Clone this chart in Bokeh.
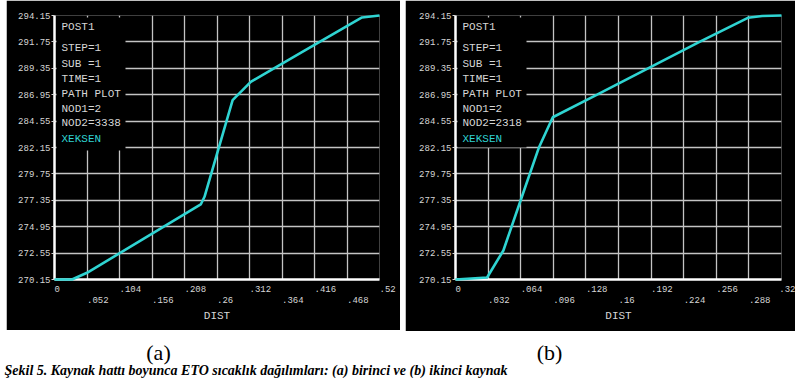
from bokeh.plotting import figure
from bokeh.layouts import row, column
from bokeh.models import Range1d, FixedTicker, LinearAxis, Grid, BoxAnnotation, Label, Spacer
from bokeh.embed import file_html
from bokeh.resources import INLINE

# ---------------- data ----------------
a_dist = [0.0, 0.028, 0.052, 0.234, 0.240, 0.285, 0.314, 0.400, 0.492, 0.520]
a_temp = [270.15, 270.15, 270.76, 276.97, 277.67, 286.45, 288.12, 290.95, 293.97, 294.15]

b_dist = [0.0, 0.031, 0.047, 0.065, 0.082, 0.0955, 0.139, 0.189, 0.2395, 0.287, 0.301, 0.320]
b_temp = [270.15, 270.33, 272.79, 277.63, 282.18, 284.90, 286.95, 289.35, 291.75, 293.94, 294.10, 294.15]

a_xticks = [0.0, 0.052, 0.104, 0.156, 0.208, 0.26, 0.312, 0.364, 0.416, 0.468, 0.52]
a_xlabels = ["0", ".052", ".104", ".156", ".208", ".26", ".312", ".364", ".416", ".468", ".52"]
b_xticks = [0.0, 0.032, 0.064, 0.096, 0.128, 0.16, 0.192, 0.224, 0.256, 0.288, 0.32]
b_xlabels = ["0", ".032", ".064", ".096", ".128", ".16", ".192", ".224", ".256", ".288", ".32"]
yticks = [270.15, 272.55, 274.95, 277.35, 279.75, 282.15, 284.55, 286.95, 289.35, 291.75, 294.15]
ylabels = ["270.15", "272.55", "274.95", "277.35", "279.75", "282.15", "284.55", "286.95",
           "289.35", "291.75", "294.15"]

a_info = ["POST1", "STEP=1", "SUB =1", "TIME=1", "PATH PLOT", "NOD1=2", "NOD2=3338", "XEKSEN"]
b_info = ["POST1", "STEP=1", "SUB =1", "TIME=1", "PATH PLOT", "NOD1=2", "NOD2=2318", "XEKSEN"]
x_title = "DIST"
panel_tags = ["(a)", "(b)"]
caption = "Şekil 5. Kaynak hattı boyunca ETO sıcaklık dağılımları: (a) birinci ve (b) ikinci kaynak"

# ---------------- style ----------------
CYAN = "#2fd4d2"
GRID = "#c4c4c4"
TXT = "#d6d6d6"
MONO = "Liberation Mono"
info_rows_px = [11, 32, 48, 63, 78, 93, 107, 123]   # offsets below frame top


def pad(s):
    return "\u00a0" * len(s) + s


def panel(dist, temp, xticks, xlabels, info, fw, fh, left, right, top, bottom, box_w, box_h):
    xr = Range1d(xticks[0], xticks[-1])
    yr = Range1d(yticks[0], yticks[-1])
    p = figure(frame_width=fw, frame_height=fh, x_range=xr, y_range=yr,
               x_axis_location=None, y_axis_location=None,
               min_border_left=left, min_border_right=right,
               min_border_top=top, min_border_bottom=bottom,
               output_backend="svg", toolbar_location=None)
    p.background_fill_color = "black"
    p.border_fill_color = "black"
    p.outline_line_color = None
    p.center = []   # drop default grids

    sx = (xticks[-1] - xticks[0]) / fw
    sy = (yticks[-1] - yticks[0]) / fh

    for dim, tk in ((0, xticks), (1, yticks)):
        p.add_layout(Grid(dimension=dim, ticker=FixedTicker(ticks=tk),
                          grid_line_color=GRID, grid_line_width=1.3))

    # black box behind the info text
    p.add_layout(BoxAnnotation(left=xticks[0] + 2 * sx, right=xticks[0] + box_w * sx,
                               top=yticks[-1] - 2 * sy, bottom=yticks[-1] - box_h * sy,
                               fill_color="black", fill_alpha=1.0, line_color=None,
                               level="guide"))

    yax = LinearAxis(ticker=FixedTicker(ticks=yticks),
                     major_label_overrides={t: l for t, l in zip(yticks, ylabels)},
                     major_label_text_font=MONO, major_label_text_font_size="9px",
                     major_label_text_color=TXT, major_label_standoff=1,
                     major_tick_out=3, major_tick_in=0, major_tick_line_color=TXT,
                     minor_tick_out=0, minor_tick_in=0,
                     axis_line_color="white", axis_line_width=2.5)
    p.add_layout(yax, "left")

    even = xticks[0::2]
    odd = xticks[1::2]
    ov = {t: pad(l) for t, l in zip(xticks, xlabels)}
    ax1 = LinearAxis(ticker=FixedTicker(ticks=even),
                     major_label_overrides={t: ov[t] for t in even},
                     major_label_text_font=MONO, major_label_text_font_size="9px",
                     major_label_text_color=TXT, major_label_standoff=5,
                     major_tick_out=0, major_tick_in=0, minor_tick_out=0, minor_tick_in=0,
                     axis_line_color="white", axis_line_width=2.5)
    ax2 = LinearAxis(ticker=FixedTicker(ticks=odd),
                     major_label_overrides={t: ov[t] for t in odd},
                     major_label_text_font=MONO, major_label_text_font_size="9px",
                     major_label_text_color=TXT, major_label_standoff=-2,
                     major_tick_out=0, major_tick_in=0, minor_tick_out=0, minor_tick_in=0,
                     axis_line_color=None,
                     axis_label=x_title, axis_label_text_font=MONO,
                     axis_label_text_font_size="11px", axis_label_text_color=TXT,
                     axis_label_text_font_style="normal", axis_label_standoff=1)
    p.add_layout(ax1, "below")
    p.add_layout(ax2, "below")

    p.line(dist, temp, line_color=CYAN, line_width=2.6, level="overlay")

    for txt, off in zip(info, info_rows_px):
        p.add_layout(Label(x=xticks[0] + 7 * sx, y=yticks[-1] - off * sy, text=txt,
                           text_font=MONO, text_font_size="11px",
                           text_color=CYAN if txt == "XEKSEN" else TXT,
                           text_baseline="middle", text_align="left"))
    return p


pa = panel(a_dist, a_temp, a_xticks, a_xlabels, a_info, 325, 264, 48, 21, 12, 54, 71, 135)
pb = panel(b_dist, b_temp, b_xticks, b_xlabels, b_info, 326, 264, 50, 14, 15, 52, 71, 132)

bottom = figure(width=795, height=47, x_range=Range1d(0, 795), y_range=Range1d(0, 47),
                x_axis_location=None, y_axis_location=None, min_border=0,
                output_backend="svg", toolbar_location=None)
bottom.outline_line_color = None
bottom.center = []
bottom.background_fill_color = "white"
bottom.border_fill_color = "white"
for tag, cx in zip(panel_tags, [158, 549]):
    bottom.add_layout(Label(x=cx, y=26, text=tag, text_font="Liberation Serif",
                            text_font_size="22px", text_color="black",
                            text_align="center", text_baseline="middle"))
bottom.add_layout(Label(x=4, y=1, text=caption, text_font="Liberation Serif",
                        text_font_size="14px", text_font_style="bold italic",
                        text_color="black", text_align="left", text_baseline="bottom"))

layout = column(row(Spacer(width=6, height=330), pa, Spacer(width=5, height=330), pb), bottom)

open("out.html", "w").write(file_html(layout, INLINE))
